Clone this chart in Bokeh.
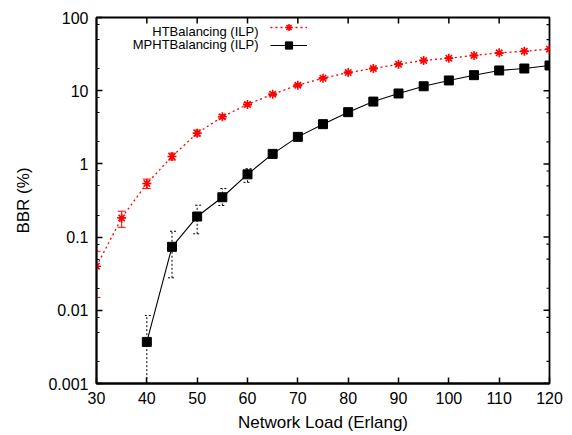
import math
from bokeh.plotting import figure
from bokeh.models import (Range1d, FixedTicker, Whisker, TeeHead,
                          ColumnDataSource, Legend, LegendItem, Label)
from bokeh.embed import file_html
from bokeh.resources import INLINE

# ---- data ----
load_ht = [30, 35, 40, 45, 50, 55, 60, 65, 70, 75, 80, 85, 90, 95, 100, 105, 110, 115, 120]
bbr_ht = [0.040, 0.183, 0.54, 1.26, 2.63, 4.4, 6.5, 8.96, 11.9, 14.8, 17.7, 20.1, 23.0,
          25.9, 27.8, 30.3, 32.9, 34.6, 36.9]
bbr_ht_lo = [0.015, 0.136, 0.46, 1.13, 2.40, 4.15, 6.2, 8.6, 11.5, 14.4, 17.3, 19.7, 22.6,
             25.5, 27.4, 29.9, 32.4, 34.1, 36.4]
bbr_ht_hi = [0.064, 0.226, 0.62, 1.40, 2.90, 4.70, 6.9, 9.3, 12.3, 15.2, 18.1, 20.5, 23.4,
             26.3, 28.2, 30.7, 33.4, 35.1, 37.4]

load_mp = [40, 45, 50, 55, 60, 65, 70, 75, 80, 85, 90, 95, 100, 105, 110, 115, 120]
bbr_mp = [0.0037, 0.0736, 0.191, 0.35, 0.72, 1.37, 2.34, 3.49, 5.09, 7.1, 9.16, 11.5,
          13.8, 16.3, 18.9, 20.1, 22.1]
bbr_mp_lo = [1e-6, 0.0278, 0.111, 0.27, 0.56, 1.22, 2.2, 3.35, 4.9, 6.9, 8.9, 11.2,
             13.5, 16.0, 18.6, 19.8, 21.8]
bbr_mp_hi = [0.0085, 0.12, 0.273, 0.46, 0.86, 1.53, 2.5, 3.65, 5.3, 7.3, 9.4, 11.8,
             14.1, 16.6, 19.2, 20.4, 22.4]

x_ticks = [30, 40, 50, 60, 70, 80, 90, 100, 110, 120]
y_ticks = [0.001, 0.01, 0.1, 1, 10, 100]
y_tick_labels = ["0.001", "0.01", "0.1", "1", "10", "100"]
y_minor = [d * m for d in [0.001, 0.01, 0.1, 1, 10] for m in (2, 5, 8)]

series_names = ["HTBalancing (ILP)", "MPHTBalancing (ILP)"]

FONT = "Liberation Sans"
X0, X1 = 30, 120
Y0, Y1 = 0.001, 100

p = figure(width=572, height=435, y_axis_type="log", output_backend="svg",
           toolbar_location=None, x_range=Range1d(X0, X1), y_range=Range1d(Y0, Y1),
           min_border_left=96, min_border_right=23, min_border_top=17, min_border_bottom=52)
p.outline_line_color = "black"
p.outline_line_width = 1.8
p.xgrid.visible = False
p.ygrid.visible = False
p.background_fill_color = "white"
p.border_fill_color = "white"

for ax in (p.xaxis[0], p.yaxis[0]):
    ax.axis_line_width = 1.8
    ax.axis_line_color = "black"
    ax.major_tick_in = 6
    ax.major_tick_out = 0
    ax.minor_tick_in = 3
    ax.minor_tick_out = 0
    ax.major_tick_line_width = 1.5
    ax.minor_tick_line_width = 1.2
    ax.major_label_text_font = FONT
    ax.major_label_text_font_size = "16px"
    ax.major_label_text_color = "black"
    ax.axis_label_text_font = FONT
    ax.axis_label_text_font_size = "17px"
    ax.axis_label_text_font_style = "normal"
    ax.axis_label_text_color = "black"

p.xaxis.ticker = FixedTicker(ticks=x_ticks)
p.yaxis.ticker = FixedTicker(ticks=y_ticks, minor_ticks=y_minor)
p.yaxis.major_label_overrides = {t: l for t, l in zip(y_ticks, y_tick_labels)}
p.xaxis.axis_label = "Network Load (Erlang)"
p.yaxis.axis_label = "BBR (%)"
p.xaxis.major_label_standoff = 8
p.yaxis.major_label_standoff = 8
p.xaxis.axis_label_standoff = 6
p.yaxis.axis_label_standoff = 12

# mirrored ticks on top and right edges (gnuplot style)
p.ray(x=x_ticks[1:-1], y=[Y1] * (len(x_ticks) - 2), length=6, length_units="screen",
      angle=-math.pi / 2, line_color="black", line_width=1.5)
p.ray(x=[X1] * len(y_ticks), y=y_ticks, length=6, length_units="screen",
      angle=math.pi, line_color="black", line_width=1.5)
p.ray(x=[X1] * len(y_minor), y=y_minor, length=3, length_units="screen",
      angle=math.pi, line_color="black", line_width=1.2)

src_ht = ColumnDataSource(dict(x=load_ht, y=bbr_ht, lo=bbr_ht_lo, hi=bbr_ht_hi))
src_mp = ColumnDataSource(dict(x=load_mp, y=bbr_mp, lo=bbr_mp_lo, hi=bbr_mp_hi))

RED = "#ff0000"
w1 = Whisker(base="x", lower="lo", upper="hi", source=src_ht, line_color=RED, line_width=1,
             upper_head=TeeHead(size=8, line_color=RED, line_width=1),
             lower_head=TeeHead(size=8, line_color=RED, line_width=1))
w2 = Whisker(base="x", lower="lo", upper="hi", source=src_mp, line_color="black", line_width=1,
             line_dash="2 2",
             upper_head=TeeHead(size=8, line_color="black", line_width=1, line_dash="2 2"),
             lower_head=TeeHead(size=8, line_color="black", line_width=1, line_dash="2 2"))
p.add_layout(w1)
p.add_layout(w2)

l1 = p.line("x", "y", source=src_ht, line_color=RED, line_width=1.3, line_dash="2 3")
m1 = p.scatter("x", "y", source=src_ht, marker="asterisk", size=9, line_color=RED, line_width=1.6)
l2 = p.line("x", "y", source=src_mp, line_color="black", line_width=1.1)
m2 = p.scatter("x", "y", source=src_mp, marker="square", size=9, fill_color="black",
               line_color="black")

legend = Legend(items=[LegendItem(label=" ", renderers=[l1, m1]),
                       LegendItem(label=" ", renderers=[l2, m2])],
                location=(174, 329), padding=0, margin=0, spacing=-4,
                glyph_width=37, glyph_height=18, label_width=0, label_standoff=0,
                label_height=18, label_text_font_size="13px",
                background_fill_alpha=0, border_line_color=None)
p.add_layout(legend)

for i, name in enumerate(series_names):
    p.add_layout(Label(x=162, y=352.3 - 13.6 * i, x_units="screen", y_units="screen",
                       text=name, text_align="right", text_baseline="middle",
                       text_font=FONT, text_font_size="13px", text_color="black"))

open("out.html", "w").write(file_html(p, INLINE))
